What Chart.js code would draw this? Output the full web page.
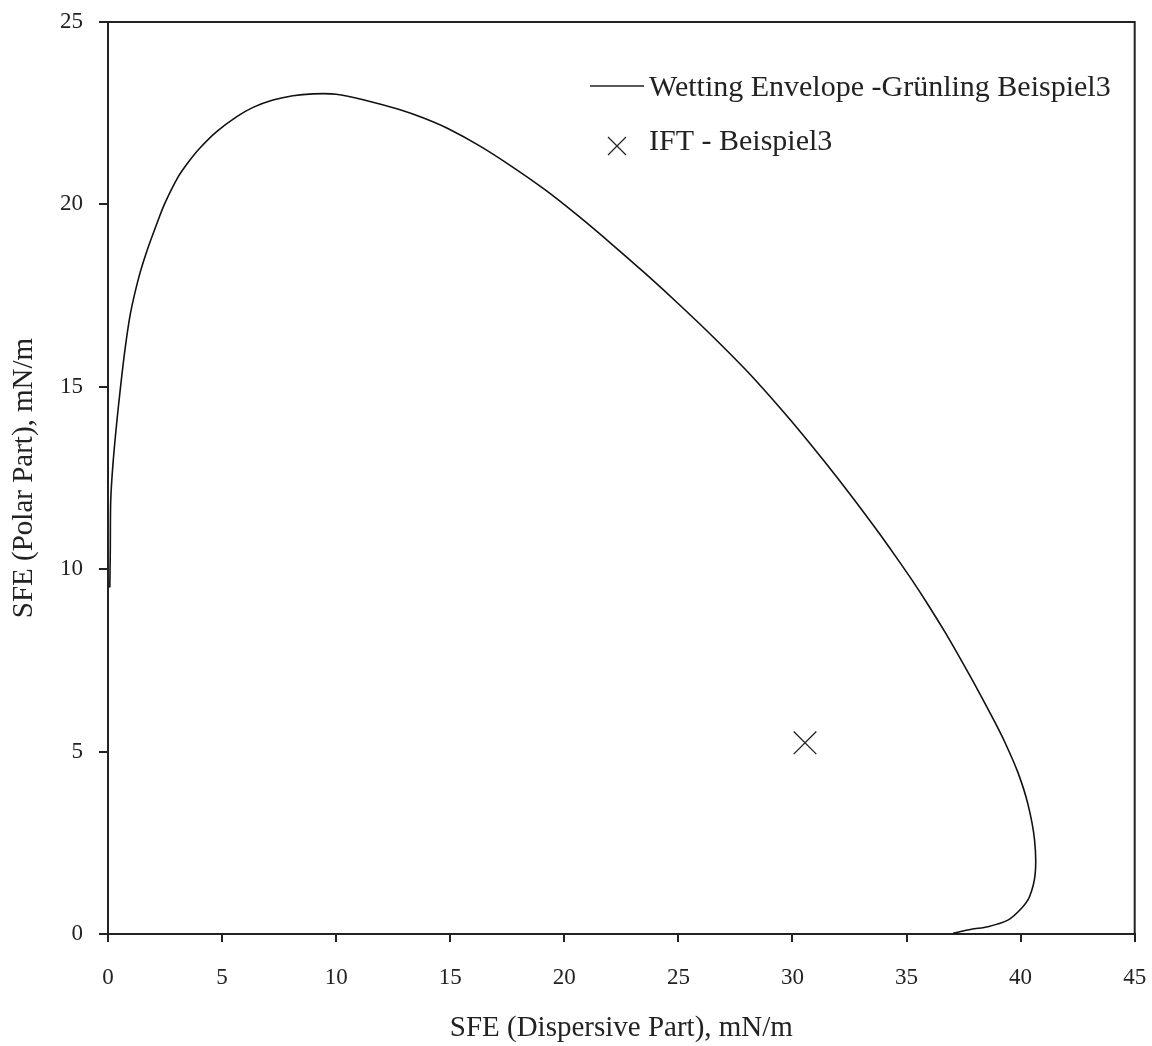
<!DOCTYPE html>
<html>
<head>
<meta charset="utf-8">
<script src="https://cdn.jsdelivr.net/npm/chart.js@4.4.1/dist/chart.umd.min.js"></script>
<style>
  html, body { margin: 0; padding: 0; background: #fff; }
  #wrap { width: 1152px; height: 1046px; }
</style>
</head>
<body>
<div id="wrap"><canvas id="chart"></canvas></div>
<script>
/* ---------- Data ---------- */
const envelopeX = [0.08, 0.1, 0.12, 0.22, 0.38, 0.55, 0.74, 0.98, 1.35, 1.72, 2.2, 2.49, 3.08, 3.51, 4.02, 4.75,
  5.63, 6.36, 7.23, 8.1, 8.98, 10.0, 11.31, 12.77, 13.86, 14.96, 16.27, 17.72, 19.18, 20.64, 22.1, 23.56, 25.01,
  26.47, 27.93, 28.95, 30.26, 31.43, 32.59, 33.76, 34.49, 35.22, 35.95, 36.68, 37.4, 38.13, 38.86,
  39.3, 39.88, 40.32, 40.61, 40.64, 40.39, 40.03, 39.44, 38.57, 37.84, 37.04];
const envelopeY = [9.5, 10.5, 11.9, 12.9, 14.0, 15.0, 16.0, 17.0, 18.0, 18.75, 19.57, 20.03, 20.76, 21.15, 21.54, 21.99,
  22.4, 22.66, 22.86, 22.98, 23.03, 23.02, 22.85, 22.6, 22.36, 22.06, 21.61, 21.03, 20.39, 19.67, 18.9, 18.1, 17.27,
  16.4, 15.48, 14.78, 13.83, 12.93, 12.0, 11.02, 10.38, 9.72, 9.02, 8.28, 7.5, 6.68, 5.82,
  5.27, 4.43, 3.56, 2.58, 1.66, 1.02, 0.7, 0.38, 0.2, 0.13, 0.02];
const iftX = [30.55];
const iftY = [5.24];

const xTicks = [0, 5, 10, 15, 20, 25, 30, 35, 40, 45];
const yTicks = [0, 5, 10, 15, 20, 25];

const FONT = '"Liberation Serif", "Times New Roman", serif';
const INK = '#222';

/* ---------- Plugins ---------- */
// top + right border of the plot box
const framePlugin = {
  id: 'frame',
  afterDraw(chart) {
    const { ctx, chartArea: a } = chart;
    ctx.save();
    ctx.strokeStyle = INK;
    ctx.lineWidth = 2;
    ctx.beginPath();
    ctx.moveTo(a.left, a.top);
    ctx.lineTo(a.right, a.top);
    ctx.lineTo(a.right, a.bottom);
    ctx.stroke();
    ctx.restore();
  }
};

// legend drawn inside the plot, top right
const insideLegend = {
  id: 'insideLegend',
  afterDraw(chart) {
    const { ctx, chartArea: a } = chart;
    const ds = chart.data.datasets;
    const textX = a.left + 541;
    ctx.save();
    ctx.font = `30px ${FONT}`;
    ctx.fillStyle = INK;
    ctx.textBaseline = 'middle';

    // line entry
    let y = a.top + 64;
    ctx.strokeStyle = INK;
    ctx.lineWidth = 1.6;
    ctx.beginPath();
    ctx.moveTo(a.left + 482, y);
    ctx.lineTo(a.left + 536, y);
    ctx.stroke();
    ctx.fillText(ds[0].label, textX, y + 2);

    // cross entry
    y = a.top + 120;
    const cx = a.left + 509, cy = y + 4, r = 9;
    ctx.lineWidth = 1.2;
    ctx.beginPath();
    ctx.moveTo(cx - r, cy - r); ctx.lineTo(cx + r, cy + r);
    ctx.moveTo(cx - r, cy + r); ctx.lineTo(cx + r, cy - r);
    ctx.stroke();
    ctx.fillText(ds[1].label, textX, y);
    ctx.restore();
  }
};

/* ---------- Chart ---------- */
const tickFont = { family: FONT, size: 23 };
const titleFont = { family: FONT, size: 29 };

new Chart(document.getElementById('chart'), {
  type: 'scatter',
  data: {
    datasets: [
      {
        label: 'Wetting Envelope -Grünling Beispiel3',
        data: envelopeX.map((x, i) => ({ x, y: envelopeY[i] })),
        showLine: true,
        borderColor: '#111',
        borderWidth: 1.6,
        pointRadius: 0,
        tension: 0.3
      },
      {
        label: 'IFT - Beispiel3',
        data: iftX.map((x, i) => ({ x, y: iftY[i] })),
        pointStyle: 'crossRot',
        pointRadius: 16,
        borderColor: '#222',
        borderWidth: 1.3
      }
    ]
  },
  options: {
    responsive: true,
    maintainAspectRatio: false,
    animation: false,
    layout: { padding: { top: 22, right: 13, left: 0, bottom: 0 } },
    plugins: {
      legend: { display: false },
      tooltip: { enabled: false }
    },
    scales: {
      x: {
        type: 'linear',
        min: 0,
        max: 45,
        afterBuildTicks: (s) => { s.ticks = xTicks.map(v => ({ value: v })); },
        afterFit: (s) => { s.height = 112; s.paddingLeft = 0; s.paddingRight = 0; },
        ticks: { font: tickFont, color: INK, padding: 22 },
        grid: { display: true, drawOnChartArea: false, drawTicks: true, tickLength: 8, color: INK, lineWidth: 2 },
        border: { display: true, color: INK, width: 2 },
        title: {
          display: true,
          text: 'SFE (Dispersive Part), mN/m',
          font: titleFont,
          color: INK,
          padding: { top: 10, bottom: 0 }
        }
      },
      y: {
        type: 'linear',
        min: 0,
        max: 25,
        afterBuildTicks: (s) => { s.ticks = yTicks.map(v => ({ value: v })); },
        afterFit: (s) => { s.width = 108; s.paddingTop = 0; s.paddingBottom = 0; },
        ticks: { font: tickFont, color: INK, padding: 16 },
        grid: { display: true, drawOnChartArea: false, drawTicks: true, tickLength: 9, color: INK, lineWidth: 2 },
        border: { display: true, color: INK, width: 2 },
        title: {
          display: true,
          text: 'SFE (Polar Part), mN/m',
          font: titleFont,
          color: INK,
          padding: { top: 7, bottom: 0 }
        }
      }
    }
  },
  plugins: [framePlugin, insideLegend]
});
</script>
</body>
</html>
